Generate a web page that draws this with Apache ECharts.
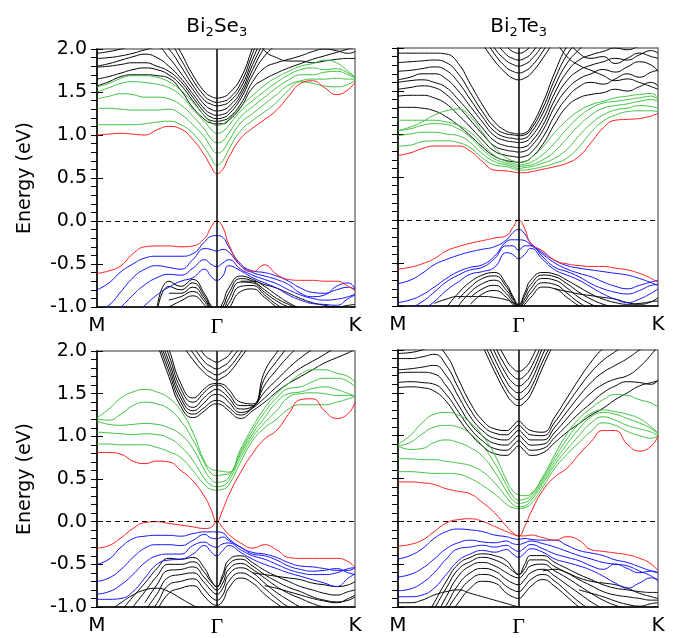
<!DOCTYPE html>
<html><head><meta charset="utf-8">
<script src="https://cdn.jsdelivr.net/npm/echarts@6/dist/echarts.min.js"></script>
<style>html,body{margin:0;padding:0;background:#fff}#c{width:679px;height:638px}</style>
</head><body><div id="c"></div>
<script>
const _ = null;
// k-path: M = 0, Gamma = 1, K = 1 + 2/sqrt(3)
const KPTS = [0,0.1,0.2,0.3,0.4,0.5,0.6,0.7,0.8,0.9,0.95,1,1.05,1.1,1.2,1.3,1.4,1.5,1.6,1.7,1.8,1.9,2.0,2.1,2.1547];
const KMAX = 2.1547;
const GAMMA = 1;
const XTICK_POS = [0, 1, 2.1547];
const XTICK_LABELS = ['M', 'Γ', 'K'];
const YMIN = -1, YMAX = 2, YSTEP = 0.5;
const TITLES = ['Bi{s|2}Se{s|3}', 'Bi{s|2}Te{s|3}'];
const YNAME = 'Energy (eV)';

// ---------- Panel A : Bi2Se3 (top) ----------
const A_redC = [1.00,1.01,1.02,1.01,1.00,1.06,1.10,1.07,0.95,0.76,0.64, 0.55, 0.60,0.74,0.96,1.08,1.18,1.29,1.45,1.60,1.63,1.55,1.47,1.53,1.62];
const A_redV = [-0.61,-0.58,-0.52,-0.38,-0.30,-0.29,-0.29,-0.30,-0.29,-0.20,-0.08, 0.00, -0.07,-0.27,-0.52,-0.59,-0.51,-0.62,-0.68,-0.69,-0.69,-0.70,-0.70,-0.76,-0.81];
const A_g1 = [1.12,1.12,1.12,1.12,1.13,1.15,1.16,1.12,1.02,0.85,0.74, 0.65, 0.70,0.83,1.05,1.17,1.27,1.38,1.52,1.62,1.60,1.57,1.56,1.59,1.64];
const A_g2 = [1.31,1.31,1.30,1.29,1.29,1.29,1.30,1.24,1.12,0.97,0.86, 0.79, 0.82,0.93,1.14,1.25,1.36,1.47,1.58,1.63,1.65,1.65,1.66,1.65,1.65];
const A_g3 = [1.42,1.45,1.48,1.47,1.44,1.44,1.42,1.35,1.22,1.06,0.96, 0.91, 0.93,1.02,1.21,1.33,1.44,1.55,1.64,1.70,1.70,1.73,1.74,1.70,1.66];
const A_g4 = [1.50,1.55,1.60,1.62,1.61,1.59,1.55,1.46,1.30,1.15,1.07, 1.02, 1.04,1.11,1.28,1.40,1.51,1.61,1.70,1.76,1.78,1.76,1.77,1.72,1.67];
const A_g5 = [1.56,1.60,1.66,1.69,1.69,1.67,1.62,1.52,1.38,1.22,1.15, 1.11, 1.13,1.18,1.33,1.46,1.58,1.67,1.74,1.80,1.83,1.87,1.84,1.74,1.67];
const A_b1 = [-0.80,-0.72,-0.59,-0.50,-0.43,-0.41,-0.41,-0.41,-0.38,-0.24,-0.18, -0.17, -0.19,-0.30,-0.50,-0.58,-0.60,-0.64,-0.70,-0.78,-0.83,-0.84,-0.80,-0.77,-0.80];
const A_b2 = [-1.06,-0.98,-0.82,-0.66,-0.56,-0.52,-0.54,-0.56,-0.45,-0.32,-0.33, -0.35, -0.33,-0.36,-0.52,-0.60,-0.64,-0.68,-0.74,-0.84,-0.88,-0.86,-0.76,-0.72,-0.79];
const A_b3 = [_,-1.10,-1.00,-0.86,-0.74,-0.66,-0.62,-0.63,-0.55,-0.45,-0.50, -0.53, -0.49,-0.45,-0.56,-0.63,-0.68,-0.73,-0.80,-0.86,-0.90,-0.92,-0.91,-0.88,-0.85];
const A_b4 = [_,_,_,-1.10,-0.98,-0.86,-0.77,-0.70,-0.66,-0.56,-0.64, -0.69, -0.64,-0.52,-0.58,-0.66,-0.72,-0.78,-0.86,-0.92,-0.96,-0.97,-0.98,-0.90,-0.86];
const A_k1 = [1.57,1.62,1.68,1.70,1.70,1.69,1.66,1.52,1.32,1.18,1.14, 1.13, 1.13,1.17,1.32,1.55,1.65,1.72,1.78,1.83,1.88,1.92,1.96,2.00,2.02];
const A_k2 = [1.65,1.68,1.72,1.76,1.78,1.76,1.70,1.58,1.40,1.22,1.17, 1.16, 1.17,1.20,1.36,1.62,1.78,1.84,1.88,1.92,1.97,2.00,1.98,1.95,1.97];
const A_k3 = [1.79,1.80,1.82,1.84,1.84,1.80,1.74,1.62,1.44,1.26,1.21, 1.19, 1.20,1.24,1.42,1.70,1.92,2.05,_,_,_,_,_,_,_];
const A_k4 = [1.80,1.83,1.87,1.91,1.94,1.90,1.80,1.66,1.48,1.30,1.25, 1.23, 1.24,1.28,1.46,1.76,2.02,2.20,_,_,_,_,_,_,_];
const A_k5 = [1.89,1.90,1.92,1.95,1.99,2.02,1.90,1.72,1.53,1.35,1.30, 1.28, 1.29,1.33,1.50,1.82,2.10,_,_,_,_,_,_,_,_];
const A_k6 = [1.95,1.97,2.00,2.04,2.08,2.12,2.00,1.80,1.58,1.40,1.36, 1.34, 1.35,1.38,1.55,1.88,2.20,_,_,_,_,_,_,_,_];
const A_k7 = [2.10,2.10,2.12,2.15,2.18,2.20,2.10,1.88,1.64,1.45,1.40, 1.38, 1.39,1.42,1.60,1.95,2.30,_,_,_,_,_,_,_,_];
const A_k8 = [2.20,2.20,2.20,2.25,2.30,2.30,2.20,1.96,1.70,1.50,1.45, 1.43, 1.44,1.48,1.66,2.02,2.40,_,_,_,_,_,_,_,_];
const A_k9 = [_,_,_,_,_,_,_,_,_,_,_, _, _,_,_,2.20,1.98,1.90,1.86,1.86,1.84,1.86,1.88,1.89,1.89];
const A_v1 = [_,_,_,_,_,-1.02,-0.70,-0.76,-0.68,-0.85,-0.98, -1.06, -0.95,-0.78,-0.64,-0.68,-0.76,-0.86,-0.95,-1.02,_,_,_,_,_];
const A_v2 = [_,_,_,_,_,-1.08,-0.76,-0.80,-0.72,-0.88,-1.00, -1.07, -1.00,-0.84,-0.67,-0.70,-0.80,-0.90,-0.97,-1.03,_,_,_,_,_];
const A_v3 = [_,_,_,_,_,_,-0.84,-0.84,-0.77,-0.91,-1.02, -1.08, -1.05,-0.90,-0.71,-0.72,-0.83,-0.93,-1.00,-1.05,_,_,_,_,_];
const A_v4 = [_,_,_,_,_,_,-0.92,-0.88,-0.82,-0.94,-1.05, -1.10, -1.06,-0.96,-0.76,-0.75,-0.86,-0.97,-1.05,_,_,_,_,_,_];
const A_v5 = [_,_,_,_,_,_,-1.00,-0.93,-0.87,-0.98,-1.08, -1.12, -1.10,-1.02,-0.82,-0.79,-0.89,-1.00,-1.08,_,_,_,_,_,_];
const A_v6 = [_,_,_,_,_,_,_,_,_,_,_, _, _,_,-0.70,-0.70,-0.74,-0.78,-0.84,-0.90,-0.95,-0.98,-1.00,-0.98,-0.97];

// ---------- Panel B : Bi2Te3 (top) ----------
const B_redC = [0.75,0.78,0.83,0.86,0.86,0.86,0.80,0.68,0.58,0.57,0.56, 0.55, 0.55,0.56,0.59,0.62,0.66,0.74,0.90,1.07,1.16,1.17,1.18,1.21,1.24];
const B_redV = [-0.57,-0.55,-0.51,-0.45,-0.36,-0.31,-0.27,-0.24,-0.21,-0.18,-0.09, 0.00, -0.10,-0.27,-0.36,-0.47,-0.51,-0.53,-0.54,-0.54,-0.56,-0.58,-0.62,-0.68,-0.73];
const B_g1 = [0.86,0.87,0.91,0.92,0.92,0.90,0.84,0.72,0.64,0.62,0.60, 0.58, 0.58,0.59,0.62,0.66,0.72,0.85,1.02,1.15,1.22,1.26,1.27,1.27,1.26];
const B_g2 = [0.98,1.00,1.02,1.02,1.00,0.98,0.90,0.77,0.68,0.64,0.62, 0.60, 0.61,0.62,0.66,0.72,0.82,0.98,1.12,1.22,1.28,1.30,1.33,1.32,1.30];
const B_g3 = [1.04,1.06,1.10,1.12,1.11,1.06,0.96,0.82,0.71,0.66,0.64, 0.62, 0.63,0.64,0.70,0.80,0.95,1.10,1.22,1.30,1.33,1.35,1.38,1.40,1.38];
const B_g4 = [1.16,1.16,1.16,1.16,1.14,1.10,1.02,0.88,0.75,0.68,0.66, 0.64, 0.65,0.67,0.76,0.90,1.06,1.20,1.30,1.36,1.38,1.40,1.42,1.44,1.40];
const B_g5 = [1.04,1.08,1.14,1.22,1.27,1.29,1.20,1.02,0.84,0.72,0.69, 0.67, 0.68,0.72,0.85,1.02,1.16,1.27,1.34,1.38,1.42,1.44,1.46,1.47,1.42];
const B_b1 = [-0.74,-0.70,-0.62,-0.52,-0.46,-0.41,-0.37,-0.34,-0.31,-0.23,-0.15, -0.11, -0.16,-0.27,-0.38,-0.47,-0.53,-0.56,-0.58,-0.60,-0.62,-0.64,-0.68,-0.73,-0.76];
const B_b2 = [-0.96,-0.93,-0.87,-0.78,-0.68,-0.60,-0.55,-0.52,-0.42,-0.25,-0.23, -0.23, -0.24,-0.29,-0.40,-0.50,-0.57,-0.62,-0.66,-0.72,-0.77,-0.80,-0.76,-0.72,-0.70];
const B_b3 = [-1.05,-1.02,-0.95,-0.84,-0.72,-0.64,-0.58,-0.55,-0.45,-0.30,-0.30, -0.35, -0.30,-0.30,-0.43,-0.55,-0.60,-0.66,-0.74,-0.80,-0.84,-0.86,-0.82,-0.76,-0.75];
const B_b4 = [_,_,-1.05,-0.95,-0.82,-0.72,-0.63,-0.60,-0.55,-0.38,-0.40, -0.45, -0.40,-0.33,-0.46,-0.58,-0.64,-0.70,-0.78,-0.86,-0.92,-0.96,-0.92,-0.85,-0.80];
const B_k1 = [1.31,1.31,1.30,1.27,1.20,1.10,0.98,0.85,0.74,0.69,0.68, 0.67, 0.68,0.72,0.88,1.12,1.32,1.42,1.46,1.48,1.52,1.50,1.55,1.60,1.56];
const B_k2 = [1.44,1.45,1.45,1.42,1.35,1.22,1.08,0.93,0.80,0.75,0.74, 0.73, 0.74,0.78,0.96,1.22,1.42,1.55,1.60,1.58,1.64,1.70,1.66,1.72,1.74];
const B_k3 = [1.52,1.54,1.56,1.54,1.46,1.32,1.16,1.00,0.86,0.81,0.80, 0.79, 0.80,0.85,1.04,1.32,1.52,1.64,1.70,1.75,1.72,1.78,1.84,1.80,1.73];
const B_k4 = [1.60,1.62,1.63,1.60,1.54,1.40,1.24,1.07,0.92,0.86,0.85, 0.84, 0.85,0.90,1.10,1.40,1.62,1.74,1.80,1.84,1.88,1.86,1.92,1.97,1.94];
const B_k5 = [1.63,1.66,1.70,1.70,1.64,1.50,1.32,1.14,0.98,0.92,0.91, 0.90, 0.91,0.96,1.17,1.48,1.72,1.86,1.92,1.96,2.00,1.98,2.02,2.05,2.02];
const B_k6 = [1.73,1.74,1.76,1.78,1.74,1.60,1.40,1.20,1.03,0.96,0.95, 0.94, 0.95,1.01,1.24,1.56,1.82,1.98,2.10,_,_,_,_,_,_];
const B_k7 = [1.83,1.84,1.85,1.86,1.83,1.70,1.48,1.26,1.08,1.00,0.99, 0.98, 0.99,1.05,1.30,1.64,1.92,2.10,_,_,_,_,_,_,_];
const B_k8 = [1.94,1.94,1.94,1.94,1.93,1.82,1.58,1.34,1.14,1.03,1.01, 1.00, 1.01,1.08,1.36,1.72,2.02,2.20,_,_,_,_,_,_,_];
const B_k9 = [_,_,_,_,_,_,_,_,_,_,_, _, _,_,_,2.10,1.90,1.80,1.74,1.68,1.62,1.64,1.60,1.55,1.52];
const B_k10 = [_,_,_,_,_,_,_,_,_,_,_, _, _,_,_,_,2.10,1.94,1.88,1.90,1.82,1.88,1.94,1.90,1.88];
const B_u1 = [_,_,_,_,_,_,_,2.05,1.85,1.70,1.65, 1.63, 1.65,1.70,1.88,2.10,_,_,_,_,_,_,_,_,_];
const B_u2 = [_,_,_,_,_,_,_,2.15,1.93,1.77,1.73, 1.71, 1.73,1.78,1.96,2.20,_,_,_,_,_,_,_,_,_];
const B_u3 = [_,_,_,_,_,_,_,2.25,2.00,1.85,1.81, 1.79, 1.81,1.86,2.04,2.30,_,_,_,_,_,_,_,_,_];
const B_u4 = [_,_,_,_,_,_,_,_,2.08,1.92,1.88, 1.86, 1.88,1.93,2.12,_,_,_,_,_,_,_,_,_,_];
const B_u5 = [_,_,_,_,_,_,_,_,2.20,2.02,1.96, 1.94, 1.96,2.03,2.25,_,_,_,_,_,_,_,_,_,_];
const B_v1 = [_,_,_,_,-1.02,-0.85,-0.72,-0.64,-0.61,-0.75,-0.88, -0.98, -0.85,-0.70,-0.61,-0.63,-0.70,-0.78,-0.86,-0.92,-0.96,-0.98,-0.97,-0.95,-0.94];
const B_v2 = [_,_,_,_,_,-0.92,-0.78,-0.68,-0.65,-0.78,-0.90, -0.99, -0.88,-0.75,-0.64,-0.66,-0.74,-0.84,-0.92,-0.98,-1.02,_,_,_,_];
const B_v3 = [_,_,_,_,_,-1.00,-0.84,-0.74,-0.70,-0.82,-0.92, -1.00, -0.92,-0.80,-0.68,-0.70,-0.79,-0.90,-0.98,-1.04,_,_,_,_,_];
const B_v4 = [_,_,_,_,_,_,-0.90,-0.80,-0.76,-0.86,-0.95, -1.02, -0.95,-0.85,-0.73,-0.75,-0.85,-0.96,-1.04,_,_,_,_,_,_];
const B_v5 = [_,_,_,_,_,_,-0.98,-0.86,-0.82,-0.90,-0.98, -1.04, -0.98,-0.90,-0.78,-0.80,-0.90,-1.00,-1.08,_,_,_,_,_,_];
const B_v6 = [_,_,_,-0.97,-0.92,-0.89,-0.89,-0.89,-0.90,-0.93,-0.96, -1.00, _,_,_,_,_,_,_,_,_,_,_,_,_];
const B_v7 = [_,_,_,_,_,_,_,_,_,_,_, _, _,_,_,-0.80,-0.83,-0.86,-0.88,-0.90,-0.92,-0.96,-0.98,-0.95,-0.90];

// ---------- Panel C : Bi2Se3 (bottom) ----------
const C_redC = [0.81,0.81,0.79,0.71,0.68,0.71,0.70,0.60,0.48,0.29,0.15, 0.00, 0.14,0.31,0.58,0.80,0.97,1.07,1.26,1.43,1.44,1.30,1.21,1.27,1.40];
const C_redV = [-0.31,-0.28,-0.19,-0.08,-0.01,0.00,-0.02,-0.04,-0.06,-0.08,-0.07, 0.00, -0.07,-0.15,-0.25,-0.31,-0.27,-0.33,-0.42,-0.43,-0.43,-0.43,-0.43,-0.47,-0.54];
const C_g1 = [0.91,0.91,0.90,0.90,0.90,0.87,0.82,0.75,0.60,0.43,0.38, 0.37, 0.38,0.43,0.70,0.95,1.10,1.20,1.32,1.37,1.37,1.37,1.40,1.44,1.47];
const C_g2 = [1.05,1.04,1.03,1.02,1.03,1.02,0.98,0.88,0.72,0.50,0.43, 0.41, 0.42,0.48,0.75,0.99,1.16,1.30,1.46,1.50,1.51,1.50,1.48,1.48,1.47];
const C_g3 = [1.18,1.14,1.13,1.14,1.15,1.14,1.10,1.02,0.86,0.60,0.50, 0.46, 0.47,0.52,0.79,1.03,1.22,1.40,1.50,1.52,1.56,1.58,1.55,1.50,1.47];
const C_g4 = [1.20,1.19,1.26,1.36,1.40,1.38,1.32,1.18,0.96,0.68,0.57, 0.54, 0.55,0.56,0.82,1.07,1.28,1.45,1.56,1.58,1.64,1.68,1.68,1.64,1.58];
const C_g5 = [1.22,1.32,1.45,1.52,1.55,1.52,1.45,1.30,1.05,0.70,0.62, 0.60, 0.59,0.58,0.85,1.11,1.33,1.50,1.62,1.73,1.78,1.78,1.74,1.70,1.63];
const C_b1 = [-0.50,-0.44,-0.30,-0.20,-0.17,-0.16,-0.16,-0.17,-0.14,-0.12,-0.12, -0.12, -0.13,-0.20,-0.30,-0.36,-0.38,-0.42,-0.48,-0.52,-0.53,-0.55,-0.57,-0.57,-0.54];
const C_b2 = [-0.70,-0.66,-0.56,-0.42,-0.31,-0.27,-0.27,-0.28,-0.22,-0.15,-0.19, -0.20, -0.18,-0.22,-0.30,-0.38,-0.40,-0.45,-0.52,-0.56,-0.58,-0.57,-0.55,-0.60,-0.62];
const C_b3 = [-0.85,-0.82,-0.74,-0.62,-0.48,-0.40,-0.38,-0.38,-0.28,-0.24,-0.28, -0.30, -0.26,-0.25,-0.33,-0.40,-0.44,-0.50,-0.56,-0.60,-0.62,-0.62,-0.60,-0.55,-0.54];
const C_b4 = [-0.91,-0.91,-0.90,-0.82,-0.66,-0.50,-0.45,-0.44,-0.38,-0.28,-0.35, -0.40, -0.34,-0.28,-0.36,-0.44,-0.50,-0.55,-0.60,-0.64,-0.68,-0.72,-0.76,-0.66,-0.61];
const C_w1 = [_,_,_,_,_,2.10,1.70,1.35,1.22,1.30,1.36, 1.38, 1.36,1.30,1.21,1.30,1.40,1.52,1.62,1.70,1.78,1.86,1.92,1.98,2.02];
const C_w2 = [_,_,_,_,_,2.15,1.76,1.40,1.26,1.34,1.40, 1.42, 1.40,1.34,1.25,1.33,1.45,1.58,1.70,1.80,1.88,1.96,2.05,_,_];
const C_w3 = [_,_,_,_,_,2.20,1.82,1.45,1.30,1.40,1.47, 1.49, 1.47,1.40,1.28,1.34,1.52,1.66,1.80,1.92,2.02,_,_,_,_];
const C_w4 = [_,_,_,_,_,2.25,1.88,1.50,1.34,1.46,1.52, 1.55, 1.52,1.45,1.32,1.35,1.60,1.78,1.94,2.08,_,_,_,_,_];
const C_w5 = [_,_,_,_,_,2.30,1.95,1.56,1.40,1.52,1.58, 1.60, 1.58,1.50,1.36,1.36,1.68,1.88,2.06,_,_,_,_,_,_];
const C_w6 = [_,_,_,_,_,2.35,2.02,1.62,1.45,1.56,1.61, 1.62, 1.61,1.55,1.40,1.38,1.76,1.98,2.15,_,_,_,_,_,_];
const C_u1 = [_,_,_,_,_,_,_,2.10,1.90,1.74,1.69, 1.66, 1.69,1.74,1.92,2.12,_,_,_,_,_,_,_,_,_];
const C_u2 = [_,_,_,_,_,_,_,2.20,1.98,1.80,1.75, 1.72, 1.75,1.80,1.98,2.20,_,_,_,_,_,_,_,_,_];
const C_u3 = [_,_,_,_,_,_,_,_,2.06,1.87,1.82, 1.79, 1.82,1.87,2.06,_,_,_,_,_,_,_,_,_,_];
const C_u4 = [_,_,_,_,_,_,_,_,2.15,1.95,1.90, 1.87, 1.90,1.95,2.15,_,_,_,_,_,_,_,_,_,_];
const C_v1 = [_,_,-1.05,-0.88,-0.72,-0.55,-0.43,-0.44,-0.42,-0.55,-0.68, -0.76, -0.62,-0.45,-0.40,-0.48,-0.57,-0.64,-0.70,-0.76,-0.80,-0.84,-0.86,-0.82,-0.80];
const C_v2 = [_,_,_,-1.00,-0.82,-0.64,-0.50,-0.50,-0.47,-0.60,-0.70, -0.76, -0.66,-0.50,-0.44,-0.52,-0.62,-0.70,-0.77,-0.82,-0.88,-0.92,-0.94,-0.92,-0.88];
const C_v3 = [_,_,_,_,-0.95,-0.74,-0.57,-0.56,-0.53,-0.66,-0.74, -0.80, -0.72,-0.56,-0.49,-0.56,-0.66,-0.76,-0.84,-0.90,-0.96,-1.00,-1.02,_,_];
const C_v4 = [_,_,_,_,-1.05,-0.85,-0.65,-0.62,-0.60,-0.72,-0.80, -0.85, -0.78,-0.62,-0.54,-0.60,-0.72,-0.83,-0.92,-1.00,-1.05,_,_,_,_];
const C_v5 = [_,_,_,_,-1.15,-0.96,-0.74,-0.70,-0.67,-0.80,-0.88, -0.92, -0.86,-0.70,-0.60,-0.66,-0.78,-0.90,-1.00,-1.06,_,_,_,_,_];
const C_v6 = [_,_,_,_,_,-1.05,-0.84,-0.78,-0.75,-0.88,-0.95, -0.98, -0.93,-0.78,-0.66,-0.72,-0.85,-0.96,-1.05,_,_,_,_,_,_];
const C_v7 = [_,-1.05,-0.95,-0.86,-0.80,-0.78,-0.82,-0.90,-0.98,-1.05,_, _, _,_,_,_,_,_,_,_,_,_,_,_,_];
const C_v8 = [_,_,_,_,_,_,_,_,_,_,_, _, _,_,_,-0.60,-0.62,-0.64,-0.66,-0.68,-0.72,-0.74,-0.76,-0.74,-0.70];
const C_v9 = [_,_,_,_,_,_,_,_,_,_,_, _, _,_,_,_,-0.75,-0.78,-0.82,-0.86,-0.90,-0.93,-0.95,-0.90,-0.86];

// ---------- Panel D : Bi2Te3 (bottom) ----------
const D_redC = [0.46,0.46,0.45,0.43,0.38,0.35,0.32,0.22,0.10,-0.06,-0.13, -0.17, -0.06,0.10,0.36,0.52,0.62,0.78,0.93,1.06,1.06,0.90,0.82,0.88,1.00];
const D_redV = [-0.29,-0.27,-0.22,-0.12,-0.02,0.02,0.03,0.00,-0.06,-0.12,-0.15, -0.17, -0.17,-0.16,-0.19,-0.22,-0.18,-0.22,-0.33,-0.35,-0.37,-0.39,-0.43,-0.50,-0.58];
const D_g1 = [0.58,0.58,0.57,0.56,0.56,0.55,0.50,0.42,0.32,0.20,0.16, 0.15, 0.16,0.20,0.40,0.62,0.78,0.92,1.05,1.15,1.12,1.05,1.00,0.97,1.00];
const D_g2 = [0.73,0.73,0.72,0.72,0.70,0.68,0.65,0.58,0.45,0.28,0.20, 0.17, 0.18,0.24,0.44,0.66,0.84,1.00,1.15,1.22,1.18,1.12,1.08,1.04,1.00];
const D_g3 = [0.88,0.84,0.85,0.92,0.95,0.92,0.86,0.76,0.58,0.35,0.25, 0.21, 0.22,0.27,0.47,0.70,0.90,1.08,1.22,1.27,1.25,1.20,1.15,1.08,1.02];
const D_g4 = [0.88,0.92,1.02,1.10,1.12,1.10,1.02,0.88,0.68,0.42,0.30, 0.25, 0.26,0.30,0.50,0.74,0.96,1.14,1.26,1.30,1.28,1.25,1.20,1.10,1.03];
const D_g5 = [0.90,1.00,1.15,1.25,1.27,1.24,1.15,1.00,0.78,0.48,0.36, 0.31, 0.30,0.32,0.52,0.78,1.02,1.20,1.32,1.42,1.48,1.47,1.42,1.38,1.33];
const D_b1 = [-0.44,-0.40,-0.32,-0.20,-0.12,-0.09,-0.10,-0.12,-0.16,-0.18,-0.20, -0.21, -0.20,-0.21,-0.22,-0.22,-0.28,-0.34,-0.37,-0.40,-0.45,-0.48,-0.53,-0.58,-0.60];
const D_b2 = [-0.65,-0.62,-0.55,-0.44,-0.32,-0.25,-0.22,-0.24,-0.25,-0.23,-0.26, -0.27, -0.25,-0.23,-0.26,-0.30,-0.35,-0.40,-0.44,-0.48,-0.50,-0.52,-0.58,-0.64,-0.70];
const D_b3 = [-0.81,-0.79,-0.72,-0.60,-0.44,-0.32,-0.30,-0.28,-0.30,-0.28,-0.32, -0.35, -0.31,-0.27,-0.32,-0.38,-0.42,-0.46,-0.52,-0.56,-0.50,-0.55,-0.60,-0.58,-0.60];
const D_b4 = [-0.88,-0.88,-0.86,-0.78,-0.62,-0.46,-0.38,-0.34,-0.36,-0.33,-0.38, -0.42, -0.37,-0.32,-0.36,-0.44,-0.48,-0.52,-0.57,-0.64,-0.72,-0.78,-0.72,-0.66,-0.68];
const D_w1 = [1.56,1.57,1.56,1.52,1.40,1.20,1.02,0.88,0.79,0.77,0.82, 0.88, 0.82,0.77,0.80,0.92,1.04,1.14,1.24,1.32,1.42,1.50,1.58,1.62,1.64];
const D_w2 = [1.62,1.63,1.62,1.60,1.48,1.28,1.08,0.94,0.85,0.83,0.88, 0.94, 0.88,0.83,0.85,0.98,1.12,1.26,1.38,1.50,1.58,1.63,1.62,1.60,1.65];
const D_w3 = [1.73,1.74,1.74,1.72,1.58,1.36,1.14,1.00,0.91,0.89,0.94, 1.00, 0.94,0.89,0.90,1.04,1.20,1.36,1.50,1.60,1.66,1.70,1.80,1.95,2.05];
const D_w4 = [1.77,1.78,1.80,1.82,1.70,1.46,1.22,1.06,0.97,0.95,1.00, 1.06, 1.00,0.95,0.95,1.10,1.28,1.46,1.62,1.74,1.82,1.90,2.00,2.10,_];
const D_w5 = [1.90,1.90,1.92,1.95,1.82,1.56,1.30,1.12,1.03,1.01,1.06, 1.12, 1.06,1.01,1.00,1.16,1.36,1.56,1.74,1.88,1.98,2.08,_,_,_];
const D_w6 = [1.96,1.97,2.00,2.05,1.94,1.66,1.38,1.18,1.08,1.06,1.11, 1.17, 1.11,1.06,1.04,1.22,1.44,1.66,1.86,2.02,2.12,_,_,_,_];
const D_u1 = [_,_,_,_,_,_,_,2.05,1.75,1.48,1.39, 1.35, 1.39,1.48,1.80,2.10,_,_,_,_,_,_,_,_,_];
const D_u2 = [_,_,_,_,_,_,_,2.12,1.82,1.55,1.46, 1.42, 1.46,1.55,1.87,2.15,_,_,_,_,_,_,_,_,_];
const D_u3 = [_,_,_,_,_,_,_,2.20,1.90,1.63,1.54, 1.50, 1.54,1.63,1.95,2.25,_,_,_,_,_,_,_,_,_];
const D_u4 = [_,_,_,_,_,_,_,2.30,1.98,1.71,1.62, 1.58, 1.62,1.71,2.03,2.35,_,_,_,_,_,_,_,_,_];
const D_u5 = [_,_,_,_,_,_,_,2.40,2.06,1.79,1.70, 1.66, 1.70,1.79,2.10,_,_,_,_,_,_,_,_,_,_];
const D_u6 = [_,_,_,_,_,_,_,_,2.15,1.88,1.79, 1.75, 1.79,1.88,2.20,_,_,_,_,_,_,_,_,_,_];
const D_v1 = [_,_,-1.20,-0.95,-0.70,-0.50,-0.42,-0.38,-0.40,-0.46,-0.55, -0.62, -0.50,-0.40,-0.40,-0.48,-0.55,-0.62,-0.68,-0.74,-0.78,-0.80,-0.82,-0.83,-0.83];
const D_v2 = [_,_,-1.25,-1.02,-0.78,-0.56,-0.47,-0.42,-0.45,-0.52,-0.58, -0.62, -0.55,-0.45,-0.45,-0.53,-0.60,-0.68,-0.75,-0.82,-0.86,-0.88,-0.90,-0.92,-0.92];
const D_v3 = [_,_,_,-1.15,-0.88,-0.64,-0.52,-0.48,-0.52,-0.60,-0.64, -0.66, -0.60,-0.52,-0.50,-0.58,-0.66,-0.75,-0.84,-0.92,-0.98,-1.02,-1.05,_,_];
const D_v4 = [_,_,_,-1.20,-0.98,-0.74,-0.60,-0.55,-0.58,-0.68,-0.72, -0.74, -0.68,-0.60,-0.56,-0.64,-0.74,-0.84,-0.94,-1.02,_,_,_,_,_];
const D_v5 = [_,_,_,_,-1.05,-0.84,-0.68,-0.62,-0.65,-0.76,-0.80, -0.82, -0.76,-0.68,-0.62,-0.70,-0.82,-0.94,-1.04,_,_,_,_,_,_];
const D_v6 = [_,_,_,_,-1.15,-0.95,-0.78,-0.70,-0.72,-0.84,-0.88, -0.90, -0.84,-0.76,-0.68,-0.76,-0.88,-1.00,-1.10,_,_,_,_,_,_];
const D_v7 = [-0.95,-0.95,-0.92,-0.86,-0.82,-0.80,-0.84,-0.88,-0.92,-0.96,-0.98, -1.00, _,_,_,_,_,_,_,_,_,_,_,_,_];
const D_v8 = [_,_,_,_,_,_,_,_,_,_,_, _, _,_,-0.58,-0.56,-0.60,-0.66,-0.70,-0.72,-0.74,-0.78,-0.84,-0.88,-0.90];
const D_v9 = [_,_,_,_,_,_,_,_,_,_,_, _, _,_,_,_,_,-0.80,-0.84,-0.88,-0.93,-0.97,-0.99,-0.96,-0.95];

const COLORS = {black:'#000000', green:'#3fc23f', blue:'#1010ff', red:'#ff1a1a'};
const PANELS = [
  {black:[A_k1,A_k2,A_k3,A_k4,A_k5,A_k6,A_k7,A_k8,A_k9,A_v1,A_v2,A_v3,A_v4,A_v5,A_v6], green:[A_g1,A_g2,A_g3,A_g4,A_g5], blue:[A_b1,A_b2,A_b3,A_b4], red:[A_redC,A_redV]},
  {black:[B_k1,B_k2,B_k3,B_k4,B_k5,B_k6,B_k7,B_k8,B_k9,B_k10,B_u1,B_u2,B_u3,B_u4,B_u5,B_v1,B_v2,B_v3,B_v4,B_v5,B_v6,B_v7], green:[B_g1,B_g2,B_g3,B_g4,B_g5], blue:[B_b1,B_b2,B_b3,B_b4], red:[B_redC,B_redV]},
  {black:[C_w1,C_w2,C_w3,C_w4,C_w5,C_w6,C_u1,C_u2,C_u3,C_u4,C_v1,C_v2,C_v3,C_v4,C_v5,C_v6,C_v7,C_v8,C_v9], green:[C_g1,C_g2,C_g3,C_g4,C_g5], blue:[C_b1,C_b2,C_b3,C_b4], red:[C_redC,C_redV]},
  {black:[D_w1,D_w2,D_w3,D_w4,D_w5,D_w6,D_u1,D_u2,D_u3,D_u4,D_u5,D_u6,D_v1,D_v2,D_v3,D_v4,D_v5,D_v6,D_v7,D_v8,D_v9], green:[D_g1,D_g2,D_g3,D_g4,D_g5], blue:[D_b1,D_b2,D_b3,D_b4], red:[D_redC,D_redV]}
];
const GRIDS = [
  {left:97, top:49, width:258, height:258},
  {left:398, top:48, width:260, height:258},
  {left:97, top:351, width:258, height:258},
  {left:398, top:350, width:260, height:260}
];
const FONT = 'DejaVu Sans';

const chart = echarts.init(document.getElementById('c'), null, {renderer:'canvas'});
const xAxes = [], yAxes = [], series = [];
GRIDS.forEach((g, gi) => {
  const showY = (gi % 2 === 0);
  xAxes.push({type:'value', gridIndex:gi, min:0, max:KMAX,
    axisLine:{show:true, onZero:false, lineStyle:{color:'#000', width:1.5}},
    axisTick:{show:false}, splitLine:{show:false},
    axisLabel:{show:true, customValues:XTICK_POS, margin:9, color:'#000', fontSize:20, fontFamily:FONT,
      formatter:(v) => { const i = XTICK_POS.findIndex(p => Math.abs(p - v) < 1e-6); const t = i >= 0 ? XTICK_LABELS[i] : ''; return t === 'Γ' ? '{g|Γ}' : t; },
      rich:{g:{fontFamily:'Liberation Serif', fontSize:22, color:'#000'}}}
  });
  yAxes.push({type:'value', gridIndex:gi, min:YMIN, max:YMAX, interval:YSTEP, position:'left',
    axisLine:{show:true, onZero:false, lineStyle:{color:'#000', width:1.5}},
    axisTick:{show:true, inside:false, length:6, lineStyle:{color:'#000', width:1}},
    minorTick:{show:true, splitNumber:5, length:6, lineStyle:{color:'#000', width:1}},
    splitLine:{show:false}, minorSplitLine:{show:false},
    axisLabel:{show:showY, margin:10, color:'#000', fontSize:19, fontFamily:FONT, formatter:(v)=>v.toFixed(1)},
    name: showY ? YNAME : '', nameLocation:'middle', nameGap:62,
    nameTextStyle:{fontSize:19, color:'#000', fontFamily:FONT}
  });
});
GRIDS.forEach((g, gi) => {
  yAxes.push({type:'value', gridIndex:gi, min:YMIN, max:YMAX, interval:YSTEP, position:'left', offset:0,
    axisLine:{show:false}, axisTick:{show:true, inside:true, length:6, lineStyle:{color:'#000', width:1}},
    axisLabel:{show:false}, splitLine:{show:false}});
});
function bandSeries(gi, arr, color, z) {
  const data = [];
  KPTS.forEach((k, i) => { if (arr[i] !== null && arr[i] !== undefined) data.push([k, arr[i]]); });
  return {type:'line', xAxisIndex:gi, yAxisIndex:gi, data, symbol:'none', showSymbol:false,
    smooth:0.5, clip:true, silent:true, animation:false, z,
    lineStyle:{color, width:1}};
}
PANELS.forEach((p, gi) => {
  p.black.forEach(a => series.push(bandSeries(gi, a, COLORS.black, 2)));
  p.green.forEach(a => series.push(bandSeries(gi, a, COLORS.green, 3)));
  p.blue.forEach(a => series.push(bandSeries(gi, a, COLORS.blue, 3)));
  p.red.forEach(a => series.push(bandSeries(gi, a, COLORS.red, 4)));
  series.push({type:'line', xAxisIndex:gi, yAxisIndex:gi, data:[], z:6, silent:true, animation:false,
    markLine:{silent:true, symbol:['none','none'], animation:false, label:{show:false},
      data:[{xAxis:GAMMA, lineStyle:{color:'#111', width:1.6, type:'solid'}},
            {yAxis:0, lineStyle:{color:'#000', width:1, type:[5,4]}}]}});
});
chart.setOption({
  animation:false,
  backgroundColor:'#fff',
  textStyle:{fontFamily:FONT},
  grid: GRIDS.map(g => Object.assign({show:true, borderColor:'#777', borderWidth:1.5, containLabel:false}, g)),
  xAxis: xAxes, yAxis: yAxes, series,
  graphic: TITLES.map((t, i) => ({type:'text', x: GRIDS[i].left + (GAMMA / KMAX) * GRIDS[i].width, y: 27,
    style:{text:t, fontSize:20, fontFamily:FONT, fill:'#000', align:'center', verticalAlign:'middle', lineHeight:24,
      rich:{s:{fontSize:13, fontFamily:FONT, lineHeight:12, verticalAlign:'bottom', fill:'#000'}}}}))
});
</script></body></html>
